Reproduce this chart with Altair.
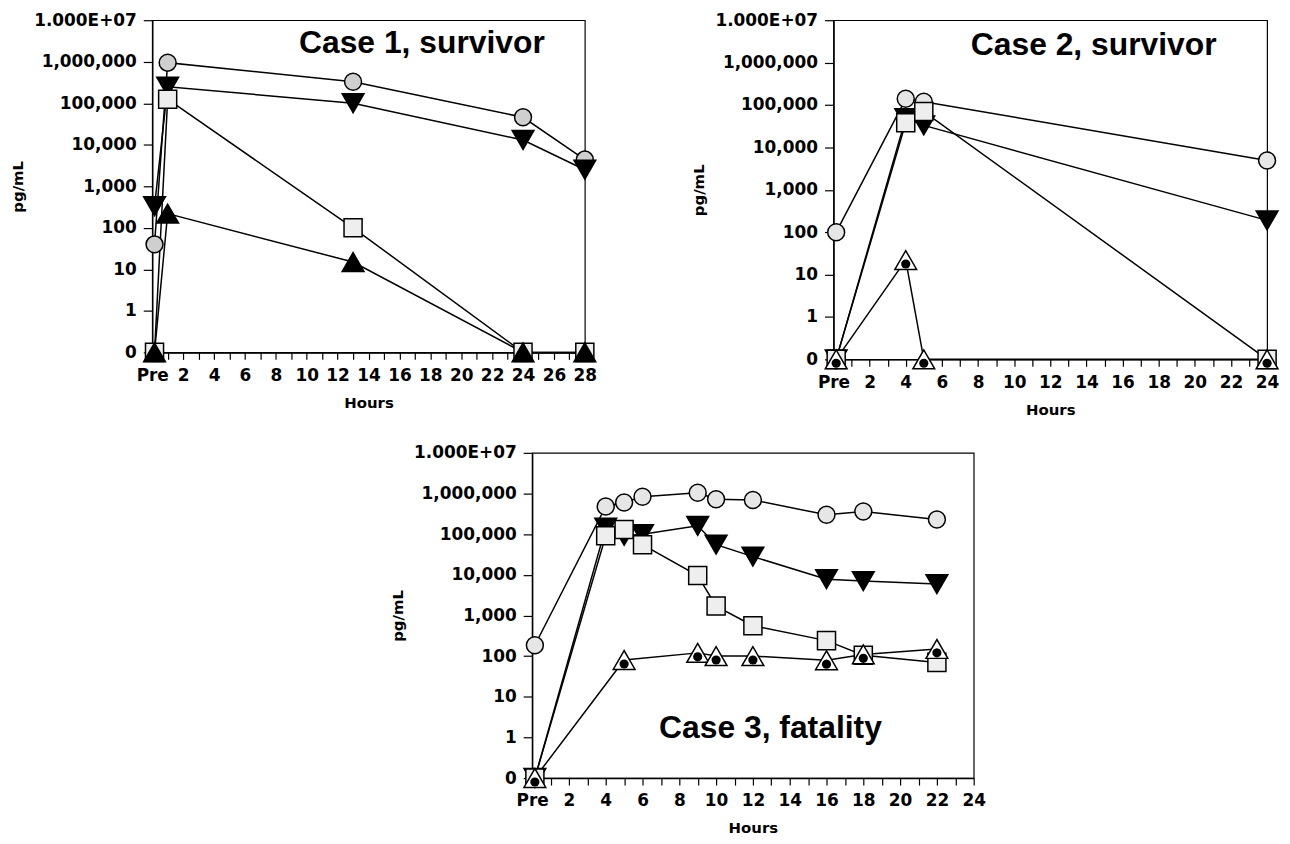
import json
import math
import altair as alt
import pandas as pd

# ---------------- data ----------------
PRE = 0.15  # the "Pre" sample, drawn just right of hour 0
SERIES = ["circle", "tri_down", "square", "tri_up"]

C1_HOURS = [PRE, 1, 13, 24, 28]
C1_CIRCLE = [40, 950000, 330000, 46000, 4400]
C1_DOWN = [330, 250000, 100000, 13000, 2500]
C1_SQUARE = [0, 125000, 100, 0, 0]
C1_UP = [0, 220, 15, 0, 0]

C2_HOURS = [PRE, 4, 5, 24]
C2_CIRCLE = [100, 140000, 120000, 4900]
C2_DOWN = [0, 49000, 33000, 190]
C2_SQUARE = [0, 38000, 70000, 0]
C2_UP = [0, 22, 0, 0]

C3_HOURS = [PRE, 4, 5, 6, 9, 10, 12, 16, 18, 22]
C3_CIRCLE = [185, 480000, 600000, 830000, 1040000, 720000, 690000, 300000, 360000, 230000]
C3_DOWN = [0, 145000, 91000, 100000, 160000, 55000, 28000, 7800, 7000, 5900]
C3_SQUARE = [0, 91000, 130000, 55000, 9600, 1700, 560, 240, 105, 70]
C3_UP = [0, None, 80, None, 120, 100, 100, 79, 110, 150]

Y_LABELS = ["0", "1", "10", "100", "1,000", "10,000", "100,000", "1,000,000", "1.000E+07"]
TITLES = ["Case 1, survivor", "Case 2, survivor", "Case 3, fatality"]

# ---------------- styling ----------------
SHAPES = ["circle", "triangle-down", "square", "triangle-up"]
SIZES = [290, 480, 330, 480]
_DOT_R, _DOT_CY = 0.42, 0.36
DOT_PATH = "M " + " L ".join(
    f"{_DOT_R * math.cos(2 * math.pi * k / 16):.3f},{_DOT_CY + _DOT_R * math.sin(2 * math.pi * k / 16):.3f}"
    for k in range(16)
) + " Z"
Y_EXPR = json.dumps(Y_LABELS) + "[datum.value + 1]"
X_EXPR = "datum.value == 0 ? 'Pre' : (datum.value % 2 == 0 ? datum.value : '')"


def panel(hours, series_values, title, tx, ty, xmax, w, h, circle_fill, up_filled):
    rows = []
    for name, vals in zip(SERIES, series_values):
        for hr, v in zip(hours, vals):
            if v is not None:
                rows.append({"series": name, "hour": hr, "v": v})
    df = pd.DataFrame(rows)
    base = alt.Chart(df).transform_calculate(
        lv="datum.v > 0 ? log(datum.v) / LN10 : -1"
    )
    xscale = alt.Scale(domain=[0, xmax], nice=False, zero=False)
    yscale = alt.Scale(domain=[-1, 7], nice=False, zero=False)
    xaxis = alt.Axis(values=list(range(0, xmax + 1)), labelExpr=X_EXPR, title="Hours")
    yaxis = alt.Axis(values=list(range(-1, 8)), labelExpr=Y_EXPR, title="pg/mL")
    x = alt.X("hour:Q", scale=xscale, axis=xaxis)
    y = alt.Y("lv:Q", scale=yscale, axis=yaxis)

    layers = [
        base.mark_line(color="black", strokeWidth=1.5).encode(
            x=x, y=y, detail="series:N", order="hour:Q"
        )
    ]
    fills = [circle_fill, "black", "#eeeeee", "black" if up_filled else "white"]
    for name, shape, fill, size in zip(SERIES, SHAPES, fills, SIZES):
        layers.append(
            base.transform_filter(alt.datum.series == name).mark_point(
                filled=True, shape=shape, fill=fill, size=size,
                stroke="black", strokeWidth=1.5, opacity=1,
            ).encode(x=x, y=y)
        )
    if not up_filled:
        layers.append(
            base.transform_filter(alt.datum.series == "tri_up").mark_point(
                filled=True, fill="black", shape=DOT_PATH, size=480, opacity=1
            ).encode(x=x, y=y)
        )
    layers.append(
        alt.Chart(pd.DataFrame({"label": [title]})).mark_text(
            align="left", baseline="middle", font="Liberation Sans",
            fontWeight="bold", fontSize=32, color="black",
        ).encode(
            x=alt.XDatum(tx, type="quantitative", scale=xscale, axis=xaxis),
            y=alt.YDatum(ty, type="quantitative", scale=yscale, axis=yaxis),
            text="label:N",
        )
    )
    return alt.layer(*layers).properties(width=w, height=h)


p1 = panel(C1_HOURS, [C1_CIRCLE, C1_DOWN, C1_SQUARE, C1_UP], TITLES[0],
           9.5, 6.45, 28, 435, 334, "#cfcfcf", True)
p2 = panel(C2_HOURS, [C2_CIRCLE, C2_DOWN, C2_SQUARE, C2_UP], TITLES[1],
           7.6, 6.42, 24, 436, 341, "#e6e6e6", False)
p3 = panel(C3_HOURS, [C3_CIRCLE, C3_DOWN, C3_SQUARE, C3_UP], TITLES[2],
           6.9, 0.22, 24, 444, 327, "#e6e6e6", False)

spacer = alt.Chart(pd.DataFrame({"a": [0]})).mark_rect(opacity=0).encode(
    x=alt.value(0), x2=alt.value(238), y=alt.value(0), y2=alt.value(1)
).properties(width=238, height=10, view=alt.ViewBackground(stroke="transparent"))

top = alt.hconcat(p1, p2, spacing=92)
bottom = alt.hconcat(spacer, p3, spacing=0)

chart = alt.vconcat(top, bottom, spacing=25).properties(
    padding={"left": 2, "top": 0, "right": 0, "bottom": 0}
).configure_view(
    stroke="black", strokeWidth=1.2
).configure_axis(
    labelFont="DejaVu Sans", labelFontWeight="bold", labelFontSize=17, labelColor="black",
    titleFont="DejaVu Sans", titleFontWeight="bold", titleFontSize=15, titleColor="black",
    domainColor="black", domainWidth=1.5, tickColor="black", tickWidth=1.2,
    grid=False, labelFlush=False, labelOverlap=False,
).configure_axisX(
    tickSize=7, labelPadding=8, titlePadding=12
).configure_axisY(
    tickSize=9, labelPadding=7, titlePadding=8
)

chart.save("out.html", embed_options={"renderer": "svg", "actions": False})
